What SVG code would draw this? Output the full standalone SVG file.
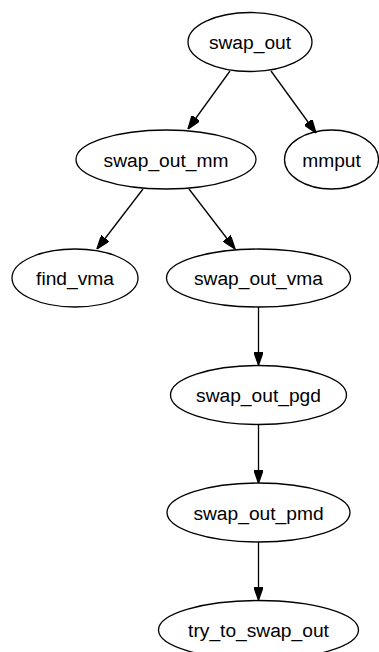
<svg xmlns="http://www.w3.org/2000/svg" width="379" height="652" viewBox="0 0 379 652">
<style>
.n ellipse{fill:none;stroke:#000;stroke-width:1.3}
.n text{font-family:"Liberation Sans",Arial,sans-serif;font-size:19.2px;text-anchor:middle;fill:#000}
#edges path{fill:none;stroke:#000;stroke-width:1.3;marker-end:url(#ah)}
</style>
<defs>
<marker id="ah" viewBox="0 0 10 7" refX="10" refY="3.5" markerWidth="13.5" markerHeight="9.5" markerUnits="userSpaceOnUse" orient="auto">
<path d="M0,0 L10,3.5 L0,7 z" fill="#000" stroke="#000"/>
</marker>
</defs>
<rect width="379" height="652" fill="#fff"/>
<g id="edges">
<path d="M230,71 L188,129"/>
<path d="M271,71 L316,133"/>
<path d="M143,189 L97,249"/>
<path d="M189,189 L235,249"/>
<path d="M258.5,307 L258.5,365"/>
<path d="M258.5,424 L258.5,483"/>
<path d="M258.5,542 L258.5,600"/>
</g>
<g id="swap_out" class="n"><ellipse cx="250" cy="42" rx="62" ry="29.5"/><text x="250" y="49">swap_out</text></g>
<g id="swap_out_mm" class="n"><ellipse cx="166" cy="159.5" rx="90" ry="29.5"/><text x="166" y="166.5">swap_out_mm</text></g>
<g id="mmput" class="n"><ellipse cx="331.5" cy="159.5" rx="47" ry="29.5"/><text x="331.5" y="166.5">mmput</text></g>
<g id="find_vma" class="n"><ellipse cx="75" cy="278" rx="63" ry="29"/><text x="75" y="285">find_vma</text></g>
<g id="swap_out_vma" class="n"><ellipse cx="258.5" cy="278" rx="92" ry="29"/><text x="258.5" y="285">swap_out_vma</text></g>
<g id="swap_out_pgd" class="n"><ellipse cx="258.5" cy="395" rx="88" ry="29.5"/><text x="258.5" y="402">swap_out_pgd</text></g>
<g id="swap_out_pmd" class="n"><ellipse cx="258.5" cy="512.5" rx="91.5" ry="29.5"/><text x="258.5" y="519.5">swap_out_pmd</text></g>
<g id="try_to_swap_out" class="n"><ellipse cx="258.5" cy="630" rx="100" ry="29.5"/><text x="258.5" y="637">try_to_swap_out</text></g>
</svg>
